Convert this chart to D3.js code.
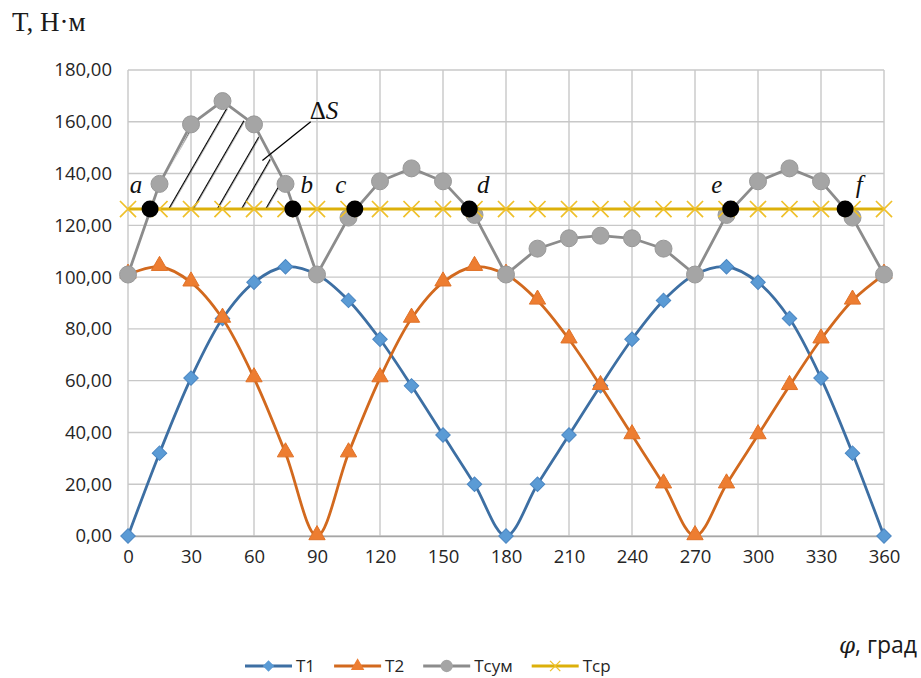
<!DOCTYPE html>
<html>
<head>
<meta charset="utf-8">
<script src="https://cdn.jsdelivr.net/npm/d3@7"></script>
<style>
  body { margin: 0; background: #fff; }
  text { font-family: "Open Sans", sans-serif; }
</style>
</head>
<body>
<div id="chart"></div>
<script>
// angle, degrees
var phi = [0, 15, 30, 45, 60, 75, 90, 105, 120, 135, 150, 165, 180,
           195, 210, 225, 240, 255, 270, 285, 300, 315, 330, 345, 360];
var t1 = [0, 32, 61, 84, 98, 104, 101, 91, 76, 58, 39, 20, 0,
          20, 39, 58, 76, 91, 101, 104, 98, 84, 61, 32, 0];
var t2 = [101, 104, 98, 84, 61, 32, 0, 32, 61, 84, 98, 104, 101,
          91, 76, 58, 39, 20, 0, 20, 39, 58, 76, 91, 101];
var tsum = [101, 136, 159, 168, 159, 136, 101, 123, 137, 142, 137, 124, 101,
            111, 115, 116, 115, 111, 101, 124, 137, 142, 137, 123, 101];
var tcp = 126.3;

// points where Tсум crosses Tср
var crossX = [10.5, 78.5, 108, 162.5, 287, 341.5];
var crossLabels = ["a", "b", "c", "d", "e", "f"];
var crossSide = [-1, 1, -1, 1, -1, 1];

var xTicks = [0, 30, 60, 90, 120, 150, 180, 210, 240, 270, 300, 330, 360];
var yTicks = [0, 20, 40, 60, 80, 100, 120, 140, 160, 180];

var seriesNames = ["T1", "T2", "Tсум", "Tср"];

// ΔS leader, in data units
var leader = { x1: 64, y1: 145, x2: 87, y2: 160, labelX: 86.5, labelY: 161 };

function init() {
    var W = 921, H = 678;
    var left = 128, right = 884, top = 70, bottom = 536;

    var svg = d3.select("#chart")
        .append("svg")
        .attr("width", W)
        .attr("height", H);

    var x = d3.scaleLinear().domain([0, 360]).range([left, right]);
    var y = d3.scaleLinear().domain([0, 180]).range([bottom, top]);

    // grid
    var grid = svg.append("g");
    grid.selectAll(".gy")
        .data(yTicks)
        .enter().append("line")
        .attr("x1", left).attr("x2", right)
        .attr("y1", d => y(d)).attr("y2", d => y(d))
        .attr("stroke", "#c8c8c8").attr("stroke-width", 1.4);
    grid.selectAll(".gx")
        .data(xTicks)
        .enter().append("line")
        .attr("y1", top).attr("y2", bottom)
        .attr("x1", d => x(d)).attr("x2", d => x(d))
        .attr("stroke", "#c8c8c8").attr("stroke-width", 1.4);

    var yAxis = svg.append("g")
        .attr("transform", "translate(" + left + ",0)")
        .call(d3.axisLeft(y).tickValues(yTicks).tickSize(0).tickPadding(16)
            .tickFormat(d => d3.format(".2f")(d).replace(".", ",")));
    yAxis.select(".domain").remove();
    yAxis.selectAll("text").style("font-size", "18.5px").attr("fill", "#262626");

    var xAxis = svg.append("g")
        .attr("transform", "translate(0," + bottom + ")")
        .call(d3.axisBottom(x).tickValues(xTicks).tickSize(0).tickPadding(14));
    xAxis.select(".domain").attr("stroke", "#a6a6a6").attr("stroke-width", 1.4);
    xAxis.selectAll("text").style("font-size", "18.5px").attr("fill", "#262626");

    // axis titles
    svg.append("text")
        .attr("x", 12).attr("y", 31)
        .style("font-family", "'Liberation Serif', serif")
        .style("font-size", "27px")
        .attr("fill", "#1a1a1a")
        .text("T, Н·м");

    var phiTitle = svg.append("text")
        .attr("x", 917).attr("y", 653)
        .attr("text-anchor", "end")
        .style("font-size", "23px")
        .attr("fill", "#1a1a1a");
    phiTitle.append("tspan").style("font-style", "italic")
        .style("font-family", "'DejaVu Serif', serif").text("φ");
    phiTitle.append("tspan").text(", град");

    var pts = function (vals) { return phi.map((p, i) => [p, vals[i]]); };
    var line = d3.line().x(d => x(d[0])).y(d => y(d[1]));
    var smooth = d3.line().x(d => x(d[0])).y(d => y(d[1])).curve(d3.curveCatmullRom.alpha(0.5));

    // T1
    svg.append("path").datum(pts(t1))
        .attr("d", smooth).attr("fill", "none")
        .attr("stroke", "#3d6fa3").attr("stroke-width", 2.8);
    svg.append("g").selectAll("path")
        .data(pts(t1)).enter().append("path")
        .attr("d", d3.symbol(d3.symbolSquare, 105))
        .attr("transform", d => "translate(" + x(d[0]) + "," + y(d[1]) + ") rotate(45)")
        .attr("fill", "#5b9bd5").attr("stroke", "#4a86c2").attr("stroke-width", 1);

    // T2
    svg.append("path").datum(pts(t2))
        .attr("d", smooth).attr("fill", "none")
        .attr("stroke", "#d2691e").attr("stroke-width", 2.8);
    svg.append("g").selectAll("path")
        .data(pts(t2)).enter().append("path")
        .attr("d", d3.symbol(d3.symbolTriangle, 115))
        .attr("transform", d => "translate(" + x(d[0]) + "," + (y(d[1]) - 1) + ")")
        .attr("fill", "#ed7d31").attr("stroke", "#e07228").attr("stroke-width", 1);

    // hatch for ΔS between a and b
    var defs = svg.append("defs");
    var px0 = x(crossX[0]) + 18, py0 = y(tcp);
    var ang = 30 * Math.PI / 180, sp = 21;
    var step = sp / Math.cos(ang);
    var base = -(py0 / Math.cos(ang)) * Math.sin(ang);
    var tx = px0 - (base + Math.ceil((px0 - base) / step) * step);
    defs.append("pattern")
        .attr("id", "hatch")
        .attr("patternUnits", "userSpaceOnUse")
        .attr("width", sp).attr("height", sp)
        .attr("patternTransform", "translate(" + tx + ",0) rotate(30)")
        .append("rect")
        .attr("x", 0).attr("y", 0).attr("width", 1.3).attr("height", sp)
        .attr("fill", "#000");

    var hatchPts = [[crossX[0], tcp]]
        .concat(pts(tsum).filter(d => d[0] > crossX[0] && d[0] < crossX[1]))
        .concat([[crossX[1], tcp]]);
    svg.append("path")
        .datum(hatchPts)
        .attr("d", d3.area().x(d => x(d[0])).y0(y(tcp) - 1).y1(d => y(d[1]) + 4))
        .attr("fill", "url(#hatch)");

    // Tсум
    svg.append("path").datum(pts(tsum))
        .attr("d", line).attr("fill", "none")
        .attr("stroke", "#8c8c8c").attr("stroke-width", 2.8);
    svg.append("g").selectAll("circle")
        .data(pts(tsum)).enter().append("circle")
        .attr("cx", d => x(d[0])).attr("cy", d => y(d[1])).attr("r", 8.5)
        .attr("fill", "#a5a5a5").attr("stroke", "#999").attr("stroke-width", 1);

    // Tср
    svg.append("line")
        .attr("x1", x(0)).attr("x2", x(360))
        .attr("y1", y(tcp)).attr("y2", y(tcp))
        .attr("stroke", "#dcb00a").attr("stroke-width", 3);
    svg.append("g").selectAll("path")
        .data(phi).enter().append("path")
        .attr("d", d3.symbol(d3.symbolX, 170))
        .attr("transform", d => "translate(" + x(d) + "," + y(tcp) + ")")
        .attr("fill", "none").attr("stroke", "#efc02a").attr("stroke-width", 1.7);

    // crossing points
    svg.append("g").selectAll("circle")
        .data(crossX).enter().append("circle")
        .attr("cx", d => x(d)).attr("cy", y(tcp)).attr("r", 8.5)
        .attr("fill", "#000");
    svg.append("g").selectAll("text")
        .data(crossX).enter().append("text")
        .attr("x", (d, i) => x(d) + crossSide[i] * 14)
        .attr("y", y(tcp) - 16)
        .attr("text-anchor", "middle")
        .style("font-family", "'Liberation Serif', serif")
        .style("font-style", "italic")
        .style("font-size", "25px")
        .attr("fill", "#111")
        .text((d, i) => crossLabels[i]);

    // ΔS label
    svg.append("line")
        .attr("x1", x(leader.x1)).attr("y1", y(leader.y1))
        .attr("x2", x(leader.x2)).attr("y2", y(leader.y2))
        .attr("stroke", "#000").attr("stroke-width", 1.3);
    var ds = svg.append("text")
        .attr("x", x(leader.labelX)).attr("y", y(leader.labelY))
        .style("font-family", "'Liberation Serif', serif")
        .style("font-size", "25px")
        .attr("fill", "#111");
    ds.append("tspan").text("Δ");
    ds.append("tspan").style("font-style", "italic").text("S");

    // legend
    var ly = 666;
    var legend = svg.append("g");
    var items = [
        { name: seriesNames[0], line: "#3d6fa3", fill: "#5b9bd5", sym: d3.symbolSquare, size: 45, rot: 45 },
        { name: seriesNames[1], line: "#d2691e", fill: "#ed7d31", sym: d3.symbolTriangle, size: 55, rot: 0 },
        { name: seriesNames[2], line: "#8c8c8c", fill: "#a5a5a5", sym: d3.symbolCircle, size: 95, rot: 0 },
        { name: seriesNames[3], line: "#dcb00a", fill: "none", sym: d3.symbolX, size: 70, rot: 0 }
    ];
    var lx = 245;
    items.forEach(function (it) {
        var g = legend.append("g").attr("transform", "translate(" + lx + "," + ly + ")");
        g.append("line").attr("x1", 0).attr("x2", 47).attr("y1", 0).attr("y2", 0)
            .attr("stroke", it.line).attr("stroke-width", 3);
        g.append("path").attr("d", d3.symbol(it.sym, it.size))
            .attr("transform", "translate(23.5,0) rotate(" + it.rot + ")")
            .attr("fill", it.fill)
            .attr("stroke", it.fill === "none" ? "#efc02a" : it.fill)
            .attr("stroke-width", 1.3);
        var t = g.append("text").attr("x", 51).attr("y", 6)
            .style("font-size", "17px").attr("fill", "#262626")
            .text(it.name);
        lx += 51 + t.node().getComputedTextLength() + 19;
    });
}

window.onload = init;
</script>
</body>
</html>
